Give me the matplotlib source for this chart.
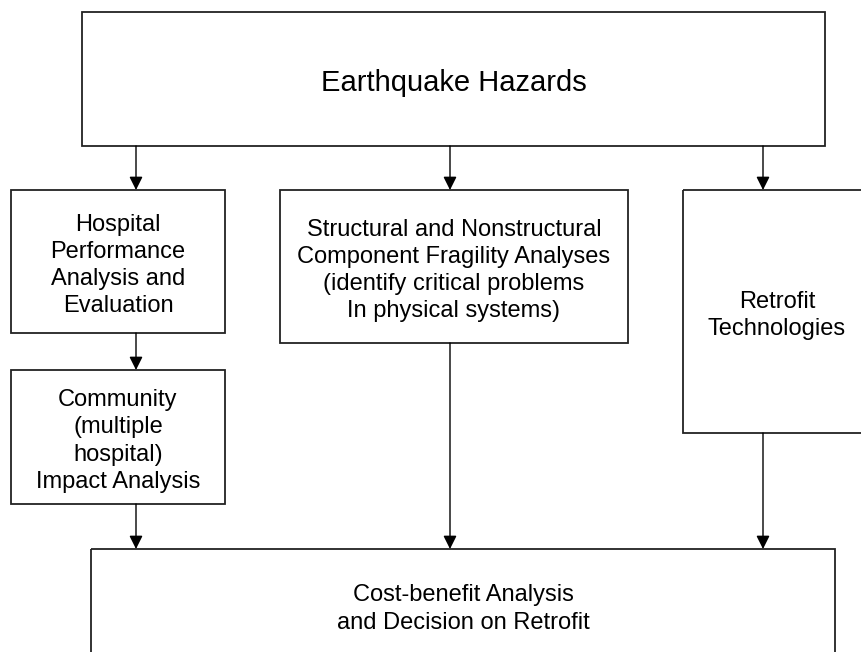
import matplotlib.pyplot as plt
from matplotlib.patches import Rectangle

dbl_width = 862.0
dbl_height = 652.0
dbl_dpi = 100.0

# box texts
labels = ['Earthquake Hazards',
          'Hospital\nPerformance\nAnalysis and\nEvaluation',
          'Structural and Nonstructural\nComponent Fragility Analyses\n(identify critical problems\nIn physical systems)',
          'Retrofit\nTechnologies',
          'Community\n(multiple\nhospital)\nImpact Analysis',
          'Cost-benefit Analysis\nand Decision on Retrofit']
font_sizes = [21, 17, 17, 17, 17, 17]

# box geometry in pixels: left, top, right, bottom
boxes = [(82, 12, 825, 146),
         (11, 190, 225, 333),
         (280, 190, 628, 343),
         (683, 190, 871, 433),
         (11, 370, 225, 504),
         (91, 549, 835, 661)]

# links between boxes (from, to) with the x of the arrow
links = [(0, 1, 136), (0, 2, 450), (0, 3, 763),
         (1, 4, 136), (4, 5, 136), (2, 5, 450), (3, 5, 763)]

fig = plt.figure(figsize=(dbl_width / dbl_dpi, dbl_height / dbl_dpi), dpi=dbl_dpi)
axes = fig.add_axes([0, 0, 1, 1])
axes.set_xlim(0, dbl_width)
axes.set_ylim(dbl_height, 0)
axes.axis('off')

lw = 1.3
color = '#222222'
dy_text = 4

for (x0, y0, x1, y1), txt, fs in zip(boxes, labels, font_sizes):
    axes.add_patch(Rectangle((x0, y0), x1 - x0, y1 - y0, fill=False,
                             edgecolor=color, lw=lw, clip_on=True))
    axes.text((x0 + x1) / 2.0, (y0 + y1) / 2.0 + dy_text, txt, ha='center', va='center',
              fontsize=fs, family='Liberation Sans', linespacing=1.3, color='k')

for i_from, i_to, x in links:
    y_start = boxes[i_from][3]
    y_end = boxes[i_to][1]
    axes.annotate('', xy=(x, y_end), xytext=(x, y_start),
                  arrowprops=dict(arrowstyle='-|>,head_length=0.4,head_width=0.2',
                                  mutation_scale=20, color='k', lw=1.0,
                                  shrinkA=0, shrinkB=0))

fig.savefig('out.png', dpi=dbl_dpi)
